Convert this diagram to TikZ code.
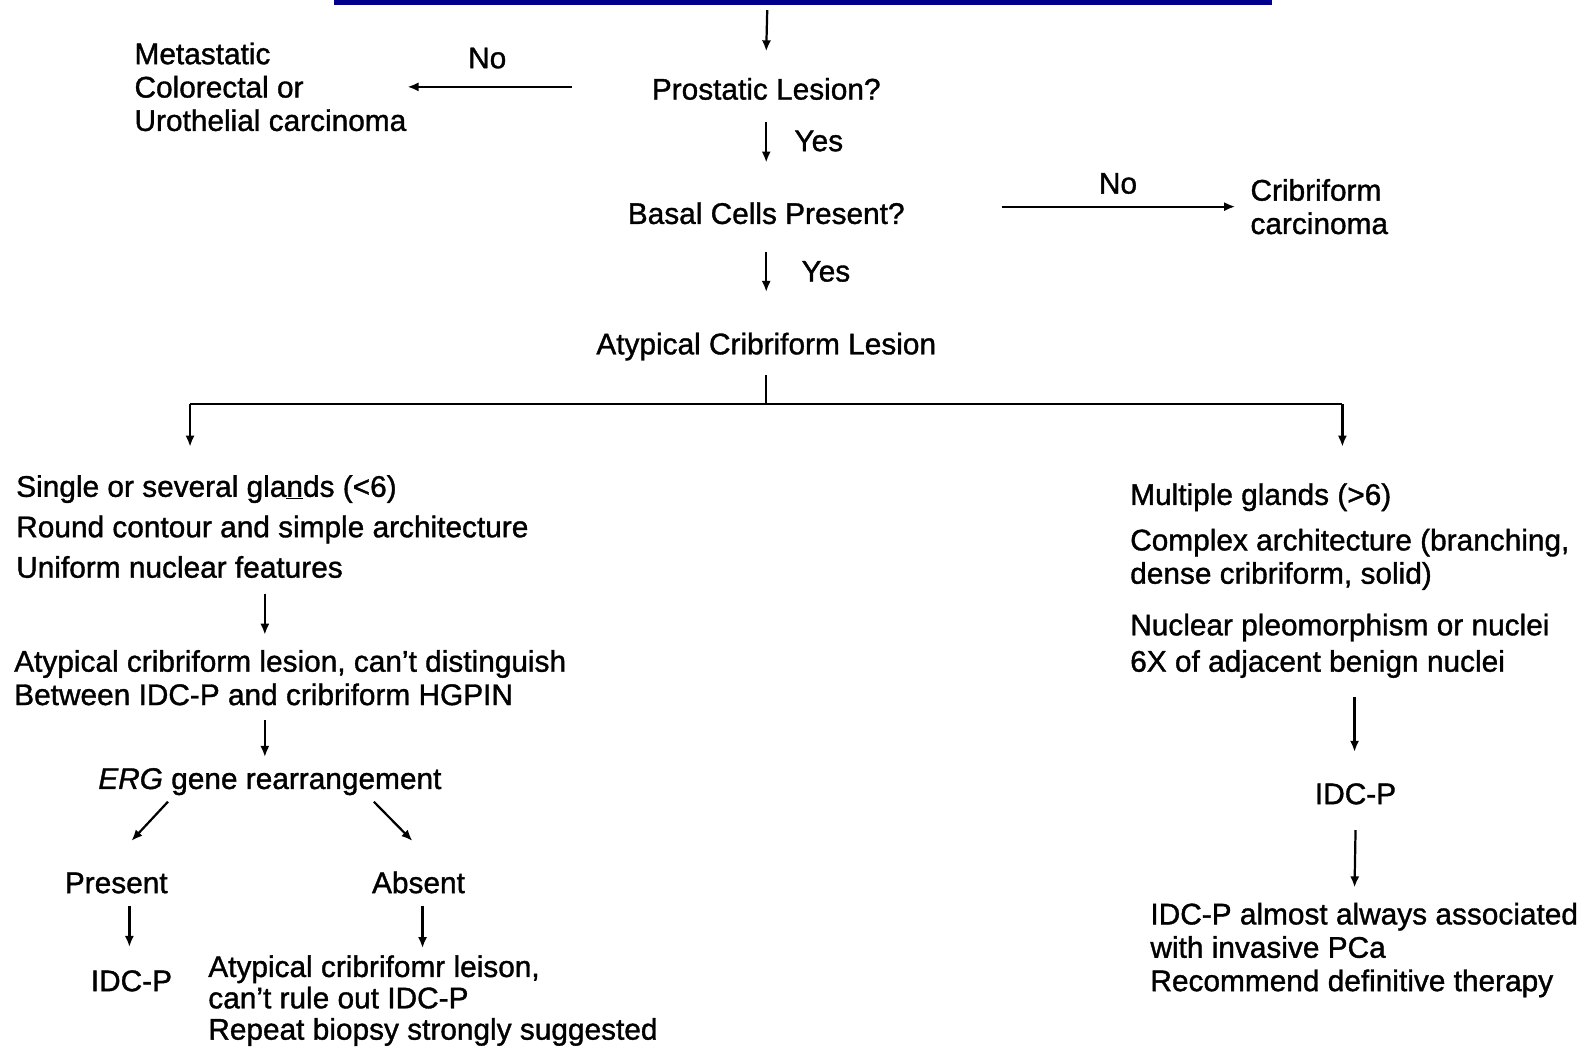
\documentclass[tikz,border=0pt]{standalone}
\usepackage{fontspec}
\setmainfont{Liberation Sans}[FakeBold=1.2]
\usetikzlibrary{arrows.meta}
\definecolor{barblue}{RGB}{0,0,140}

\begin{document}
\begin{tikzpicture}[x=1pt,y=-1pt,line width=2.2pt,font=\fontsize{29.5}{33}\selectfont,
  arr/.style={-{Latex[length=11pt,width=9pt]}},
  txt/.style={inner sep=0pt,text height=21pt,text depth=0pt},
  blk/.style={inner sep=0pt,anchor=north west,align=left}]
\useasboundingbox (0,0) rectangle (1568,1036);
\fill[barblue] (330,0) rectangle (1258,4.5);
\coordinate (bar) at (759,4);
\coordinate (fl) at (188,400);
\coordinate (fr) at (1328,400);
\node[txt] (pl) at (758,88) {Prostatic Lesion?};
\node[txt] (bc) at (758,211) {Basal Cells Present?};
\node[txt] (acl) at (758,340) {Atypical Cribriform Lesion};
\node[txt] (no1) at (482,57) {No};
\node[txt] (yes1) at (810,139) {Yes};
\node[txt] (no2) at (1106,181) {No};
\node[txt] (yes2) at (817,268) {Yes};
\node[blk] (meta) at (132,41) {Metastatic\\Colorectal or\\Urothelial carcinoma};
\node[blk] (crib) at (1236,176) {Cribriform\\carcinoma};
\node[blk] (single) at (15,469) {Single or several gla\underline{n}ds (<6)\\[7pt]Round contour and simple architecture\\[7pt]Uniform nuclear features};
\node[blk] (dist) at (13,642) {Atypical cribriform lesion, can't distinguish\\Between IDC-P and cribriform HGPIN};
\node[txt] (erg) at (267,770) {\textit{ERG} gene rearrangement};
\node[txt] (pres) at (115,873) {Present};
\node[txt] (abs) at (414,873) {Absent};
\node[txt] (idc1) at (130,970) {IDC-P};
\node[blk,font=\fontsize{29.5}{31}\selectfont] (atyp) at (205,944) {Atypical cribrifomr leison,\\can't rule out IDC-P\\Repeat biopsy strongly suggested};
\node[blk] (multi) at (1117,477) {Multiple glands (>6)\\[12pt]Complex architecture (branching,\\dense cribriform, solid)\\[18pt]Nuclear pleomorphism or nuclei\\[3pt]6X of adjacent benign nuclei};
\node[txt] (idc2) at (1341,785) {IDC-P};
\node[blk] (assoc) at (1137,892) {IDC-P almost always associated\\with invasive PCa\\Recommend definitive therapy};
\draw[arr] ([yshift=-6pt]bar) -- ([yshift=25.5pt]pl.north);
\draw[arr] ([xshift=-78pt]pl.west |- meta.east) -- (meta.east);
\draw[arr] ([yshift=-21.5pt]pl.south) -- ([yshift=38.5pt]bc.north);
\draw[arr] ([xshift=95pt]bc.east |- crib.west) -- ([xshift=-14pt]crib.west);
\draw[arr] ([yshift=-26.5pt]bc.south) -- ([yshift=39.5pt]acl.north);
\draw ([yshift=-19.5pt]acl.south) -- (acl.south |- fl) (fl) -- (fr);
\draw[arr] (fl) -- ([yshift=27pt]fl |- single.north);
\draw[arr] (fr) -- ([yshift=35pt]fr |- multi.north);
\draw[arr] ([xshift=247pt,yshift=-14.5pt]single.south west) -- ([xshift=249pt,yshift=14pt]dist.north west);
\draw[arr] ([xshift=249pt,yshift=-13.5pt]dist.south west) -- ([xshift=-5pt,yshift=9.5pt]erg.north);
\draw[arr] ([xshift=70pt,yshift=-11.5pt]erg.south west) -- ([xshift=15pt,yshift=29.5pt]pres.north);
\draw[arr] ([xshift=-68pt,yshift=-11.5pt]erg.south east) -- ([xshift=-6pt,yshift=29.5pt]abs.north);
\draw[arr] ([xshift=13pt,yshift=-11.5pt]pres.south) -- ([xshift=-2pt,yshift=21.5pt]idc1.north);
\draw[arr] ([xshift=4pt,yshift=-11.5pt]abs.south) -- ([xshift=213pt,yshift=6pt]atyp.north west);
\draw[arr] ([xshift=223pt,yshift=-18.3pt]multi.south west) -- ([xshift=-1pt,yshift=29.5pt]idc2.north);
\draw[arr] ([yshift=-24.5pt]idc2.south) -- ([xshift=203pt,yshift=14pt]assoc.north west);
\end{tikzpicture}
\end{document}
